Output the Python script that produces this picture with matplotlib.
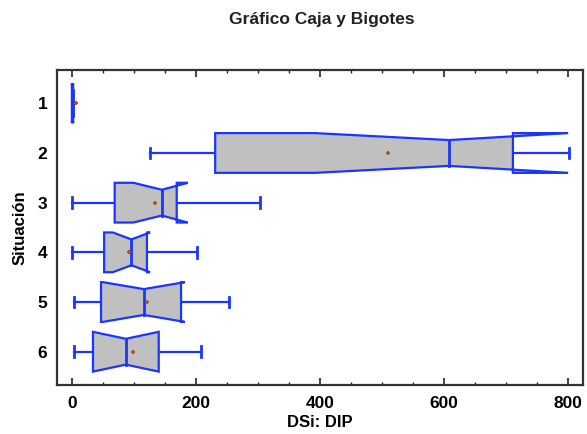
import matplotlib
matplotlib.use("Agg")
import matplotlib.pyplot as plt
from matplotlib.patches import Polygon
from matplotlib.ticker import MultipleLocator

plt.rcParams['font.family'] = ['Liberation Sans', 'DejaVu Sans']

categories = [1, 2, 3, 4, 5, 6]
whisk_lo = [0, 126, 0, 0, 3, 3]
q1 = [0, 231, 69, 52, 47, 34]
median = [1, 608, 145, 96, 116, 87]
q3 = [2, 711, 169, 121, 176, 140]
whisk_hi = [2, 801, 303, 202, 253, 208]
notch_lo = [0, 392, 99, 66, 50, 34]
notch_hi = [2, 800, 187, 126, 182, 140]
means = [6, 510, 134, 92, 121, 98]

BLUE = '#1a35ff'
FILL = '#c0c0c0'
MEANC = '#b0561c'

fig = plt.figure(figsize=(5.87, 4.34), dpi=100)
ax = fig.add_axes([0.0971, 0.1129, 0.8961, 0.7258])

h = 0.40
hn = 0.26
cap = 0.11
lw = 1.6

for i, y in enumerate(categories):
    a, b, m, c, d = whisk_lo[i], q1[i], median[i], q3[i], whisk_hi[i]
    nl, nh = notch_lo[i], notch_hi[i]
    if (b - a) > 5 or (d - c) > 5:
        ax.plot([a, b], [y, y], color=BLUE, lw=lw, zorder=2)
        ax.plot([c, d], [y, y], color=BLUE, lw=lw, zorder=2)
        ax.plot([a, a], [y - cap, y + cap], color=BLUE, lw=lw + 0.4, zorder=2)
        ax.plot([d, d], [y - cap, y + cap], color=BLUE, lw=lw + 0.4, zorder=2)
    lo = max(nl, b)
    pts = [(b, y - h), (lo, y - h), (m, y - hn), (nh, y - h), (c, y - h),
           (c, y + h), (nh, y + h), (m, y + hn), (lo, y + h), (b, y + h)]
    poly = Polygon(pts, closed=True, facecolor=FILL, edgecolor=BLUE,
                   lw=lw, joinstyle='miter', zorder=3)
    ax.add_patch(poly)
    ax.plot([m, m], [y - hn, y + hn], color=BLUE, lw=lw + 0.4, zorder=4)
    ax.plot([means[i]], [y], marker='+', color=MEANC, ms=3.5, mew=1.4, zorder=5)

ax.set_xlim(-24, 824)
ax.set_ylim(6.67, 0.33)
ax.set_yticks(categories)
ax.set_yticklabels([str(c) for c in categories], fontsize=12.5, fontweight='bold')
ax.xaxis.set_major_locator(MultipleLocator(200))
ax.xaxis.set_minor_locator(MultipleLocator(50))
ax.tick_params(axis='x', which='major', direction='in', top=True, length=5,
               width=1.2, labelsize=12.5, pad=8, color='#222222')
ax.tick_params(axis='x', which='minor', direction='in', top=True, length=2.5,
               width=1.0, color='#222222')
for lab in ax.get_xticklabels():
    lab.set_fontweight('bold')
ax.tick_params(axis='y', length=0, pad=7)
for s in ax.spines.values():
    s.set_linewidth(1.6)
    s.set_color('#333333')

ax.set_xlabel('DSi: DIP', fontsize=12, fontweight='bold', labelpad=3)
ax.set_ylabel('Situación', fontsize=12, fontweight='bold', labelpad=7)
fig.suptitle('Gráfico Caja y Bigotes', fontsize=12.5, fontweight='bold',
             x=0.548, y=0.972, color='#222222')

fig.savefig('out.png', dpi=100)
